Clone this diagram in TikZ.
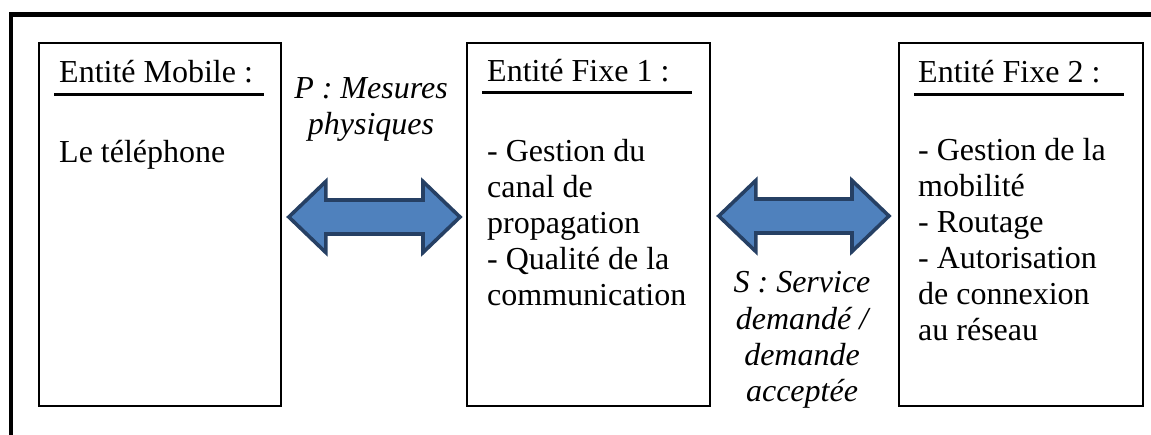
\documentclass[tikz,border=0pt]{standalone}
\usepackage{fontspec}
\setmainfont{Liberation Serif}
\usetikzlibrary{calc}
\definecolor{arrfill}{RGB}{79,129,189}
\definecolor{arrdraw}{RGB}{38,64,100}
\newcommand{\dblarr}[2]{%
  \draw[dblarrow] (#1) -- ++(37,-35.5) -- ++(0,18.5) -- ($(#2)+(-37,-17)$) -- ++(0,-18.5) -- (#2)
    -- ++(-37,35.5) -- ++(0,-18.5) -- ($(#1)+(37,17)$) -- ++(0,18.5) -- cycle;}
\tikzset{
  x=1pt, y=-1pt,
  entitybox/.style={draw, line width=1.8pt, minimum width=#1, minimum height=363, anchor=north west, inner sep=0},
  txt/.style={font=\fontsize{32}{36}\selectfont, inner sep=0, align=left, anchor=base west},
  lbl/.style={font=\fontsize{32}{36.5}\selectfont\itshape, inner sep=0, align=center, anchor=base},
  rule/.style={line width=3pt},
  frame/.style={line width=4.5pt},
  dblarrow/.style={fill=arrfill, draw=arrdraw, line width=3.6pt, line join=miter}
}
\begin{document}
\begin{tikzpicture}
\useasboundingbox (0,0) rectangle (1151,435);
% outer frame (top and left only)
\coordinate (ftl) at (11,14.5);
\coordinate (ftr) at (1151,14.5);
\coordinate (fbl) at (11,435);
\draw[frame] (ftr) -- (ftl) -- (fbl);
% boxes
\node[entitybox=242] (mob) at (38,42) {};
\node[entitybox=243] (fix1) at (466,42) {};
\node[entitybox=244] (fix2) at (898,42) {};
% headers
\node[txt] (hmob) at (59,83) {Entité Mobile :};
\node[txt] (hfix1) at (487,82) {Entité Fixe 1 :};
\node[txt] (hfix2) at (918,83) {Entité Fixe 2 :};
\draw[rule] (54,95) -- (264,95);
\draw[rule] (482,93) -- (692,93);
\draw[rule] (914,95) -- (1124,95);
% bodies (anchor = baseline of last line)
\node[txt] (bmob) at (59,163) {Le téléphone};
\node[txt] (bfix1) at (487,306) {- Gestion du\\canal de\\propagation\\- Qualité de la\\communication};
\node[txt] (bfix2) at (918,341) {- Gestion de la\\mobilité\\- Routage\\- Autorisation\\de connexion\\au réseau};
% arrows
\coordinate (a1l) at ($(mob.east |- 0,217)+(7,0)$);
\coordinate (a1r) at ($(fix1.west |- 0,217)+(-6,0)$);
\coordinate (a2l) at ($(fix1.east |- 0,216)+(8,0)$);
\coordinate (a2r) at ($(fix2.west |- 0,216)+(-9,0)$);
\dblarr{a1l}{a1r}
\dblarr{a2l}{a2r}
% labels (anchor = baseline of last line)
\node[lbl] (lp) at (371,135) {P : Mesures\\physiques};
\node[lbl] (ls) at (802,402) {S : Service\\demandé /\\demande\\acceptée};
\end{tikzpicture}
\end{document}
